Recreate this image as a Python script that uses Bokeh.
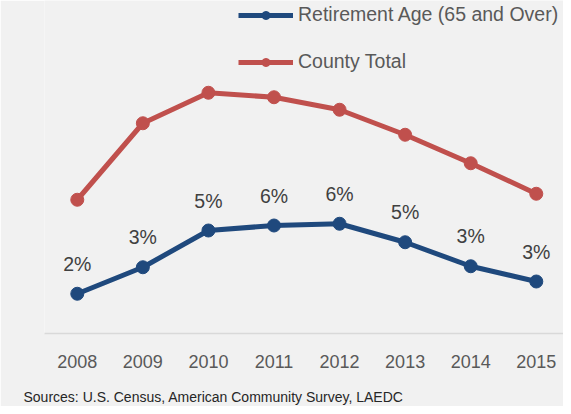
from bokeh.plotting import figure
from bokeh.models import Range1d, FixedTicker, ColumnDataSource, LabelSet, Title, Legend, LegendItem
from bokeh.core.properties import value
from bokeh.embed import file_html
from bokeh.resources import INLINE

years = [2008, 2009, 2010, 2011, 2012, 2013, 2014, 2015]
retirement = [1.59, 2.65, 4.12, 4.32, 4.39, 3.65, 2.69, 2.08]
county_total = [5.35, 8.41, 9.63, 9.45, 8.95, 7.95, 6.81, 5.59]
retirement_labels = ["2%", "3%", "5%", "6%", "6%", "5%", "3%", "3%"]

FONT = "Liberation Sans"
BG = "#f1f1f1"
BLUE = "#1f497d"
RED = "#c0504d"

src = ColumnDataSource(dict(x=years, ret=retirement, tot=county_total, lab=retirement_labels))

p = figure(width=563, height=406, output_backend="svg", toolbar_location=None,
           x_range=Range1d(2007.5, 2015.415), y_range=Range1d(0, 13.32),
           min_border_left=44, min_border_right=0, min_border_top=0, min_border_bottom=73)
p.background_fill_color = BG
p.border_fill_color = BG
p.outline_line_color = None
p.grid.visible = False
p.yaxis.visible = False

ax = p.xaxis[0]
ax.ticker = FixedTicker(ticks=years)
ax.axis_line_color = "#d9d9d9"
ax.axis_line_width = 1.5
ax.major_tick_line_color = None
ax.minor_tick_line_color = None
ax.major_label_text_font = FONT
ax.major_label_text_font_size = "18px"
ax.major_label_text_color = "#595959"
ax.major_label_standoff = 15

l1 = p.line("x", "ret", source=src, line_color=BLUE, line_width=5)
s1 = p.scatter("x", "ret", source=src, size=13, fill_color=BLUE, line_color=BLUE)
l2 = p.line("x", "tot", source=src, line_color=RED, line_width=5)
s2 = p.scatter("x", "tot", source=src, size=13, fill_color=RED, line_color=RED)

labels = LabelSet(x="x", y="ret", text="lab", source=src, y_offset=30,
                  text_align="center", text_baseline="middle",
                  text_font=value(FONT), text_font_size=value("19.5px"), text_color="#404040")
p.add_layout(labels)

legend = Legend(items=[LegendItem(label="Retirement Age (65 and Over)", renderers=[l1, s1]),
                       LegendItem(label="County Total", renderers=[l2, s2])],
                location=(194, 258), orientation="vertical",
                background_fill_alpha=0, border_line_color=None,
                padding=0, margin=0, spacing=20,
                glyph_width=55, glyph_height=20, label_height=27, label_standoff=5,
                label_text_font=FONT, label_text_font_size="19.5px",
                label_text_color="#595959")
p.add_layout(legend)

sources = Title(text="\nSources: U.S. Census, American Community Survey, LAEDC",
                align="left", offset=-21, standoff=0,
                text_font=FONT, text_font_size="14px", text_font_style="normal",
                text_color="#262626")
p.add_layout(sources, "below")

open("out.html", "w").write(file_html(p, INLINE))
